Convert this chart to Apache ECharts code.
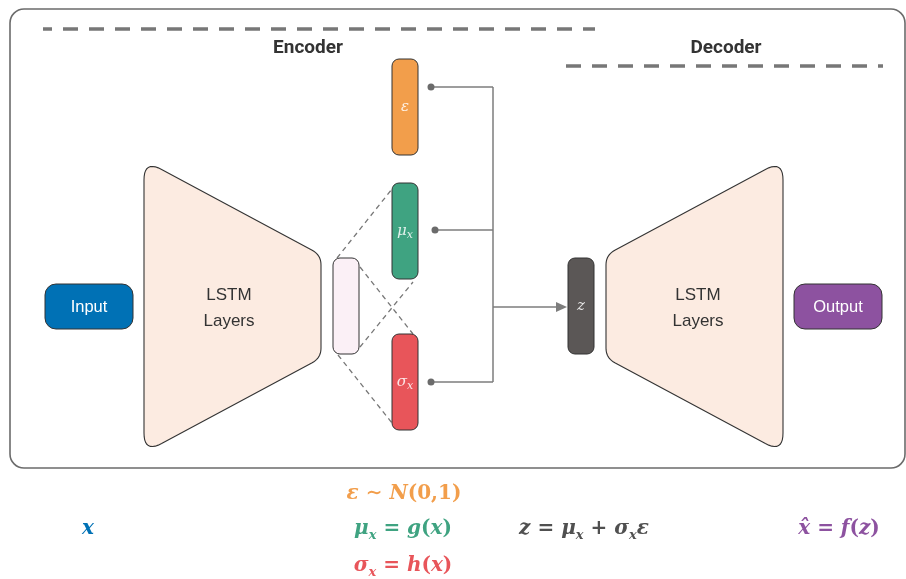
<!DOCTYPE html>
<html><head><meta charset="utf-8">
<script src="https://cdn.jsdelivr.net/npm/echarts@6/dist/echarts.min.js"></script>
<style>html,body{margin:0;padding:0;background:#fff}#c{width:906px;height:579px}</style>
</head><body><div id="c"></div>
<script>
// ---- content (text) ----
const sectionTitles = ['Encoder', 'Decoder'];
const ioLabels = ['Input', 'Output'];
const lstmLines = ['LSTM', 'Layers'];
const latentSymbols = ['ε', 'μ', 'σ', 'z'];
const latentSubs = ['', 'x', 'x', ''];
// formula token lists: [style, text]
const fInput = [['i', 'x']];
const fEps = [['i', 'ε'], ['r', ' ∼ '], ['i', 'N'], ['r', '(0,1)']];
const fMu = [['i', 'μ'], ['s', 'x'], ['r', ' = '], ['i', 'g'], ['r', '('], ['i', 'x'], ['r', ')']];
const fSigma = [['i', 'σ'], ['s', 'x'], ['r', ' = '], ['i', 'h'], ['r', '('], ['i', 'x'], ['r', ')']];
const fZ = [['i', 'z'], ['r', ' = '], ['i', 'μ'], ['s', 'x'], ['r', ' + '], ['i', 'σ'], ['s', 'x'], ['i', 'ε']];
const fOut = [['i', 'x\u0302'], ['r', ' = '], ['i', 'f'], ['r', '('], ['i', 'z'], ['r', ')']];

// ---- layout (diagram coordinates, same units as the hidden axes) ----
const L = {
  frame: [10, 9, 905, 468],
  encLine: [43, 595, 29], decLine: [566, 883, 66],
  encTitle: [308, 48], decTitle: [726, 48],
  input: [45, 284, 133, 329], output: [794, 284, 882, 329],
  lstmL: [[144, 160], [321, 255], [321, 358], [144, 453]],
  lstmR: [[606, 255], [783, 160], [783, 453], [606, 358]],
  lstmLText: 229, lstmRText: 698,
  pink: [333, 258, 359, 354],
  eps: [392, 59, 418, 155], mu: [392, 183, 418, 279], sigma: [392, 334, 418, 430],
  z: [568, 258, 594, 354],
  busX: 493, arrowY: 307,
  dots: [[431, 87], [435, 230], [431, 382]],
  cross: [[[337, 258], [392, 189]], [[360, 267], [413, 334]], [[360, 347], [413, 282]], [[338, 355], [392, 423]]],
  fPos: { input: [88, 529], eps: [404, 494], mu: [403, 529], sigma: [403, 566], z: [584, 529], out: [839, 529] }
};
const C = {
  frame: '#6b6b6b', dash: '#777777', conn: '#7d7d7d', dot: '#6b6b6b', stroke: '#333333',
  input: '#0071b5', output: '#8d52a0', lstm: '#fcebe1', pink: '#fbf0f6',
  eps: '#f29e4b', mu: '#3fa381', sigma: '#e8555a', z: '#5b5756', text: '#333333', zf: '#505050'
};

function renderItem(params, api) {
  const P = (x, y) => api.coord([x, y]);
  const kids = [];
  const rect = (b, r, style) => {
    const a = P(b[0], b[1]), c = P(b[2], b[3]);
    return { type: 'rect', shape: { x: a[0], y: a[1], width: c[0] - a[0], height: c[1] - a[1], r: r }, style: style };
  };
  const line = (x1, y1, x2, y2, style) => {
    const a = P(x1, y1), b = P(x2, y2);
    return { type: 'line', shape: { x1: a[0], y1: a[1], x2: b[0], y2: b[1] }, style: style };
  };
  const text = (x, y, t, style) => {
    const a = P(x, y);
    return { type: 'text', style: Object.assign({ text: t, x: a[0], y: a[1], align: 'center', verticalAlign: 'middle' }, style) };
  };
  const roundPoly = (pts, radii, style) => {
    const px = pts.map(p => P(p[0], p[1]));
    const out = [];
    const n = px.length;
    for (let i = 0; i < n; i++) {
      const p0 = px[(i - 1 + n) % n], p1 = px[i], p2 = px[(i + 1) % n];
      const r = radii[i];
      const d0 = Math.hypot(p0[0] - p1[0], p0[1] - p1[1]);
      const d2 = Math.hypot(p2[0] - p1[0], p2[1] - p1[1]);
      const a = [p1[0] + (p0[0] - p1[0]) * r / d0, p1[1] + (p0[1] - p1[1]) * r / d0];
      const b = [p1[0] + (p2[0] - p1[0]) * r / d2, p1[1] + (p2[1] - p1[1]) * r / d2];
      for (let k = 0; k <= 10; k++) {
        const t = k / 10, u = 1 - t;
        out.push([u * u * a[0] + 2 * u * t * p1[0] + t * t * b[0], u * u * a[1] + 2 * u * t * p1[1] + t * t * b[1]]);
      }
    }
    return { type: 'polygon', shape: { points: out }, style: style };
  };

  // frame
  kids.push(rect(L.frame, 14, { fill: '#fff', stroke: C.frame, lineWidth: 1.6 }));
  // dashed headers
  kids.push(line(L.encLine[0], L.encLine[2], L.encLine[1], L.encLine[2], { stroke: C.dash, lineWidth: 3.6, lineDash: [15, 11], lineDashOffset: 6 }));
  kids.push(line(L.decLine[0], L.decLine[2], L.decLine[1], L.decLine[2], { stroke: C.dash, lineWidth: 3.6, lineDash: [15, 11] }));
  const titleFont = { fill: C.text, fontFamily: 'Roboto', fontWeight: 'bold', fontSize: 19 };
  kids.push(text(L.encTitle[0], L.encTitle[1], sectionTitles[0], titleFont));
  kids.push(text(L.decTitle[0], L.decTitle[1], sectionTitles[1], titleFont));

  // IO boxes
  const ioFont = { fill: '#ffffff', fontFamily: 'Liberation Sans', fontSize: 16.5 };
  kids.push(rect(L.input, 11, { fill: C.input, stroke: C.stroke, lineWidth: 1 }));
  kids.push(text((L.input[0] + L.input[2]) / 2, (L.input[1] + L.input[3]) / 2 + 1, ioLabels[0], ioFont));
  kids.push(rect(L.output, 11, { fill: C.output, stroke: C.stroke, lineWidth: 1 }));
  kids.push(text((L.output[0] + L.output[2]) / 2, (L.output[1] + L.output[3]) / 2 + 1, ioLabels[1], ioFont));

  // LSTM trapezoids
  const tStyle = { fill: C.lstm, stroke: C.stroke, lineWidth: 1.1 };
  kids.push(roundPoly(L.lstmL, [20, 10, 10, 20], tStyle));
  kids.push(roundPoly(L.lstmR, [10, 20, 20, 10], tStyle));
  const lf = { fill: C.text, fontFamily: 'Liberation Sans', fontSize: 17 };
  kids.push(text(L.lstmLText, 295, lstmLines[0], lf));
  kids.push(text(L.lstmLText, 321, lstmLines[1], lf));
  kids.push(text(L.lstmRText, 295, lstmLines[0], lf));
  kids.push(text(L.lstmRText, 321, lstmLines[1], lf));

  // dashed crossing lines
  L.cross.forEach(s => kids.push(line(s[0][0], s[0][1], s[1][0], s[1][1], { stroke: C.dash, lineWidth: 1.3, lineDash: [5, 4] })));

  // connectors
  const cs = { stroke: C.conn, lineWidth: 1.5 };
  L.dots.forEach(d => {
    kids.push(line(d[0], d[1], L.busX, d[1], cs));
    const c = P(d[0], d[1]);
    kids.push({ type: 'circle', shape: { cx: c[0], cy: c[1], r: 3.5 }, style: { fill: C.dot } });
  });
  kids.push(line(L.busX, L.dots[0][1], L.busX, L.dots[2][1], cs));
  kids.push(line(L.busX, L.arrowY, L.z[0] - 8, L.arrowY, cs));
  const t = P(L.z[0] - 1, L.arrowY), b1 = P(L.z[0] - 12, L.arrowY - 5), b2 = P(L.z[0] - 12, L.arrowY + 5);
  kids.push({ type: 'polygon', shape: { points: [t, b1, b2] }, style: { fill: C.conn } });

  // latent boxes
  kids.push(rect(L.pink, 7, { fill: C.pink, stroke: C.stroke, lineWidth: 1 }));
  const boxes = [L.eps, L.mu, L.sigma, L.z];
  const fills = [C.eps, C.mu, C.sigma, C.z];
  boxes.forEach((bx, i) => {
    kids.push(rect(bx, 7, { fill: fills[i], stroke: C.stroke, lineWidth: 1 }));
    const a = P((bx[0] + bx[2]) / 2, (bx[1] + bx[3]) / 2);
    kids.push({ type: 'text', style: {
      text: '{m|' + latentSymbols[i] + '}' + (latentSubs[i] ? '{s|' + latentSubs[i] + '}' : ''),
      x: a[0], y: a[1], align: 'center', verticalAlign: 'middle',
      rich: {
        m: { fill: 'rgba(255,255,255,0.85)', fontFamily: 'DejaVu Serif', fontStyle: 'italic', fontSize: 15, lineHeight: 20, verticalAlign: 'middle' },
        s: { fill: 'rgba(255,255,255,0.85)', fontFamily: 'DejaVu Serif', fontStyle: 'italic', fontSize: 11, lineHeight: 12, verticalAlign: 'bottom' }
      }
    } });
  });

  // formulas
  const formula = (tokens, pos, color) => {
    const a = P(pos[0], pos[1]);
    const base = { fill: color, fontFamily: 'DejaVu Serif', fontWeight: 'bold' };
    kids.push({ type: 'text', style: {
      text: tokens.map(tk => '{' + tk[0] + '|' + tk[1] + '}').join(''),
      x: a[0], y: a[1], align: 'center', verticalAlign: 'middle',
      rich: {
        i: Object.assign({ fontStyle: 'italic', fontSize: 20, lineHeight: 26, verticalAlign: 'middle' }, base),
        r: Object.assign({ fontStyle: 'normal', fontSize: 20, lineHeight: 26, verticalAlign: 'middle' }, base),
        s: Object.assign({ fontStyle: 'italic', fontSize: 13, lineHeight: 14, verticalAlign: 'bottom' }, base)
      }
    } });
  };
  formula(fInput, L.fPos.input, C.input);
  formula(fEps, L.fPos.eps, C.eps);
  formula(fMu, L.fPos.mu, C.mu);
  formula(fSigma, L.fPos.sigma, C.sigma);
  formula(fZ, L.fPos.z, C.zf);
  formula(fOut, L.fPos.out, C.output);

  return { type: 'group', children: kids };
}

const chart = echarts.init(document.getElementById('c'), null, { renderer: 'canvas' });
chart.setOption({
  animation: false,
  backgroundColor: '#ffffff',
  grid: { left: 0, right: 0, top: 0, bottom: 0 },
  xAxis: { type: 'value', min: 0, max: 906, show: false },
  yAxis: { type: 'value', min: 0, max: 579, inverse: true, show: false },
  series: [{ type: 'custom', renderItem: renderItem, data: [[0, 0]], silent: true, clip: false }]
});
</script></body></html>
